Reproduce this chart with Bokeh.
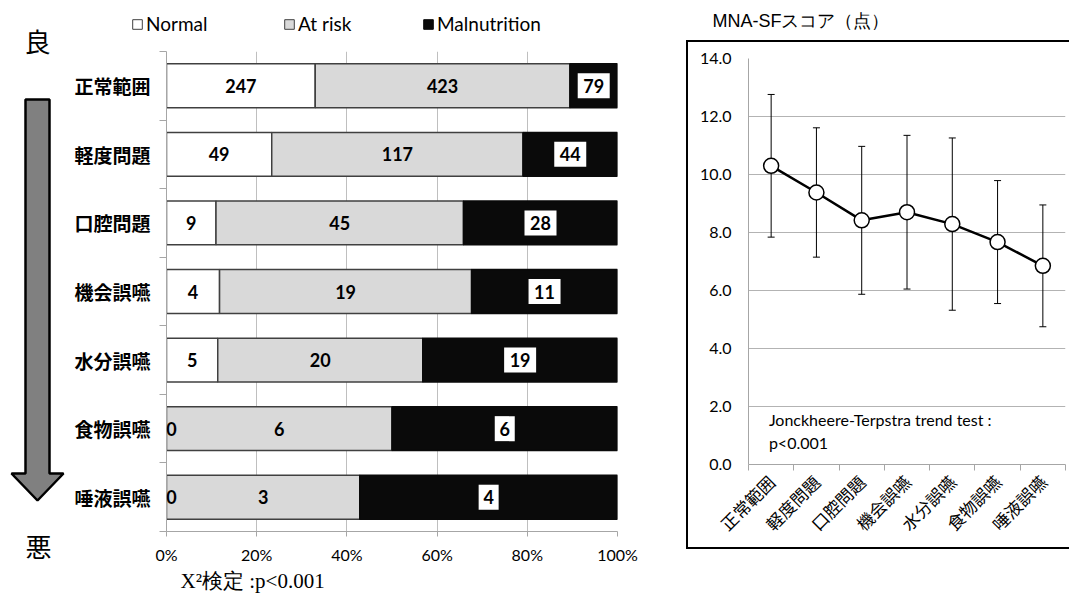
import math
from bokeh.plotting import figure
from bokeh.models import (Range1d, FixedTicker, NumeralTickFormatter, ColumnDataSource,
                          LabelSet, Label, Title, Whisker, TeeHead, Legend, LegendItem)
from bokeh.layouts import row, column
from bokeh.embed import file_html
from bokeh.resources import INLINE
from bokeh.core.properties import value

# ---------------- data ----------------
categories = ["正常範囲", "軽度問題", "口腔問題", "機会誤嚥", "水分誤嚥", "食物誤嚥", "唾液誤嚥"]
normal = [247, 49, 9, 4, 5, 0, 0]
at_risk = [423, 117, 45, 19, 20, 6, 3]
malnutrition = [79, 44, 28, 11, 19, 6, 4]
series_names = ["Normal", "At risk", "Malnutrition"]
pct_ticks = [0, 0.2, 0.4, 0.6, 0.8, 1.0]

mna_mean = [10.30, 9.38, 8.42, 8.70, 8.29, 7.67, 6.85]
mna_sd = [2.46, 2.23, 2.55, 2.65, 2.97, 2.12, 2.10]
mna_ticks = [0, 2, 4, 6, 8, 10, 12, 14]

LATO = "Lato"
CJK = "Noto Sans CJK JP"
GRAY = "#a6a6a6"
FILLS = ["white", "#d9d9d9", "#0a0a0a"]
EDGES = ["#404040", "#404040", "#0a0a0a"]

n_cat = len(categories)
centers = [i + 0.5 for i in range(n_cat)]
bounds = list(range(n_cat + 1))

# ---------------- arrow column (page-pixel coordinates) ----------------
pa = figure(width=70, height=604, x_range=Range1d(0, 70), y_range=Range1d(604, 0),
            min_border=0, x_axis_location=None, y_axis_location=None,
            output_backend="svg", toolbar_location=None)
pa.grid.visible = False
pa.outline_line_color = None
pa.patch(x=[25, 49, 49, 63, 37, 11, 25], y=[99, 99, 473, 473, 500, 473, 473],
         fill_color="#808080", line_color="black", line_width=2.5)
pa.text(x=[37, 38], y=[40, 545], text=["良", "悪"], text_font=value(CJK),
        text_font_size="26px", text_align="center", text_baseline="middle", text_color="black")

# ---------------- legend strip above the bar chart ----------------
pf = figure(width=616, height=48, x_range=Range1d(0, 1), y_range=Range1d(0, 1),
            min_border=0, x_axis_location=None, y_axis_location=None,
            output_backend="svg", toolbar_location=None)
pf.grid.visible = False
pf.outline_line_color = None
leg_x = [61, 213, 352]
for name, fc, lc, lx in zip(series_names, FILLS, EDGES, leg_x):
    # proxy renderer kept outside the visible range; only its legend swatch is shown
    proxy = pf.rect(x=[5], y=[5], width=0.1, height=0.1, fill_color=fc, line_color=lc,
                    line_width=1)
    pf.add_layout(Legend(items=[LegendItem(label=name, renderers=[proxy])], location=(lx, 13),
                         orientation="horizontal", padding=0, spacing=0, margin=0,
                         glyph_width=12, glyph_height=12, label_standoff=3,
                         border_line_color=None, background_fill_alpha=0,
                         label_text_font=LATO, label_text_font_size="19px",
                         label_text_color="black"))

# ---------------- stacked 100% bar chart ----------------
totals = [a + b + c for a, b, c in zip(normal, at_risk, malnutrition)]
fr_n = [a / t for a, t in zip(normal, totals)]
fr_a = [b / t for b, t in zip(at_risk, totals)]
fr_m = [c / t for c, t in zip(malnutrition, totals)]

src = ColumnDataSource(dict(y=centers, Normal=fr_n, AtRisk=fr_a, Maln=fr_m))

pb = figure(width=616, height=556, x_range=Range1d(0, 1), y_range=Range1d(n_cat, 0),
            min_border_left=96, min_border_right=69, min_border_top=3, min_border_bottom=73,
            output_backend="svg", toolbar_location=None)
rs = pb.hbar_stack(["Normal", "AtRisk", "Maln"], y="y", height=0.64, source=src,
                   fill_color=FILLS, line_color=EDGES, line_width=1.5)

pb.outline_line_color = None
pb.ygrid.visible = False
pb.xgrid.grid_line_color = "#bfbfbf"
pb.xaxis.ticker = FixedTicker(ticks=pct_ticks)
pb.xaxis.formatter = NumeralTickFormatter(format="0%")
pb.xaxis.axis_line_color = GRAY
pb.xaxis.major_tick_line_color = GRAY
pb.xaxis.major_tick_out = 5
pb.xaxis.major_tick_in = 0
pb.xaxis.major_label_standoff = 8
pb.xaxis.major_label_text_font = LATO
pb.xaxis.major_label_text_font_size = "16px"
pb.xaxis.major_label_text_color = "black"

pb.yaxis.ticker = FixedTicker(ticks=centers, minor_ticks=bounds)
pb.yaxis.major_label_overrides = {c: name for c, name in zip(centers, categories)}
pb.yaxis.axis_line_color = GRAY
pb.yaxis.major_tick_out = 0
pb.yaxis.major_tick_in = 0
pb.yaxis.minor_tick_out = 7
pb.yaxis.minor_tick_in = 0
pb.yaxis.minor_tick_line_color = GRAY
pb.yaxis.major_label_standoff = 9
pb.yaxis.major_label_text_font = CJK
pb.yaxis.major_label_text_font_size = "19px"
pb.yaxis.major_label_text_font_style = "bold"
pb.yaxis.major_label_text_color = "black"

# count labels
cum_a = [n + a for n, a in zip(fr_n, fr_a)]
src_n = ColumnDataSource(dict(x=[f / 2 for f in fr_n], y=centers, text=[str(v) for v in normal],
                              off=[5 if v == 0 else 0 for v in normal]))
src_a = ColumnDataSource(dict(x=[n + a / 2 for n, a in zip(fr_n, fr_a)], y=centers,
                              text=[str(v) for v in at_risk], off=[0] * n_cat))
src_m = ColumnDataSource(dict(x=[c + m / 2 for c, m in zip(cum_a, fr_m)], y=centers,
                              text=[str(v) for v in malnutrition], off=[0] * n_cat,
                              w=[12 * len(str(v)) + 8 for v in malnutrition]))
pb.rect(x="x", y="y", width="w", height=25, width_units="screen", height_units="screen",
        source=src_m, fill_color="white", line_color=None)
for s in (src_n, src_a, src_m):
    pb.add_layout(LabelSet(x="x", y="y", text="text", source=s, x_offset="off",
                           text_align="center", text_baseline="middle", text_font=value(LATO),
                           text_font_size="18px", text_font_style="bold", text_color="black"))

pb.add_layout(Title(text="X²検定 :p<0.001", align="left", offset=14, standoff=0,
                    text_font="Liberation Serif", text_font_size="21px",
                    text_font_style="normal", text_color="black"), "below")

# ---------------- MNA-SF line chart ----------------
pt = figure(width=385, height=40, x_range=Range1d(0, 385), y_range=Range1d(40, 0),
            min_border=0, x_axis_location=None, y_axis_location=None,
            output_backend="svg", toolbar_location=None)
pt.grid.visible = False
pt.outline_line_color = None
pt.text(x=[26], y=[20], text=["MNA-SFスコア（点）"], text_baseline="middle",
        text_font=value("Liberation Sans"), text_font_size="18px", text_color="black")

pr = figure(width=383, height=509, x_range=Range1d(0, n_cat), y_range=Range1d(0, 14),
            min_border_left=60, min_border_right=6, min_border_top=16, min_border_bottom=87,
            output_backend="svg", toolbar_location=None,
            styles={"border-left": "2px solid black", "border-top": "2px solid black",
                    "border-bottom": "2px solid black", "border-right": "none"})
pr.outline_line_color = None
pr.xgrid.visible = False
pr.ygrid.grid_line_color = "#b3b3b3"

src2 = ColumnDataSource(dict(x=centers, mean=mna_mean,
                             upper=[m + s for m, s in zip(mna_mean, mna_sd)],
                             lower=[m - s for m, s in zip(mna_mean, mna_sd)]))
pr.add_layout(Whisker(base="x", upper="upper", lower="lower", source=src2,
                      line_color="black", line_width=1,
                      upper_head=TeeHead(size=7, line_width=1, line_color="black"),
                      lower_head=TeeHead(size=7, line_width=1, line_color="black")))
pr.line("x", "mean", source=src2, line_color="black", line_width=2.5)
pr.scatter("x", "mean", source=src2, size=15, fill_color="white", line_color="black",
           line_width=1.5)

pr.yaxis.ticker = FixedTicker(ticks=mna_ticks)
pr.yaxis.formatter = NumeralTickFormatter(format="0.0")
pr.yaxis.axis_line_color = GRAY
pr.yaxis.major_tick_out = 0
pr.yaxis.major_tick_in = 0
pr.yaxis.minor_tick_line_color = None
pr.yaxis.major_label_standoff = 17
pr.yaxis.major_label_text_font = LATO
pr.yaxis.major_label_text_font_size = "16px"
pr.yaxis.major_label_text_color = "black"

pr.xaxis.ticker = FixedTicker(ticks=centers, minor_ticks=bounds)
pr.xaxis.major_label_overrides = {c: name for c, name in zip(centers, categories)}
pr.xaxis.major_label_orientation = math.pi / 4
pr.xaxis.axis_line_color = GRAY
pr.xaxis.major_tick_out = 0
pr.xaxis.major_tick_in = 0
pr.xaxis.minor_tick_out = 6
pr.xaxis.minor_tick_in = 0
pr.xaxis.minor_tick_line_color = GRAY
pr.xaxis.major_label_standoff = 8
pr.xaxis.major_label_text_font = CJK
pr.xaxis.major_label_text_font_size = "17px"
pr.xaxis.major_label_text_color = "black"

pr.add_layout(Label(x=0.45, y=1.55, text="Jonckheere-Terpstra trend test :",
                    text_baseline="middle", text_font=LATO, text_font_size="16px",
                    text_color="black"))
pr.add_layout(Label(x=0.45, y=0.76, text="p<0.001", text_baseline="middle",
                    text_font=LATO, text_font_size="16px", text_color="black"))

layout = row(column(pa), column(row(pf), pb), column(row(pt), pr))
open("out.html", "w").write(file_html(layout, INLINE))
